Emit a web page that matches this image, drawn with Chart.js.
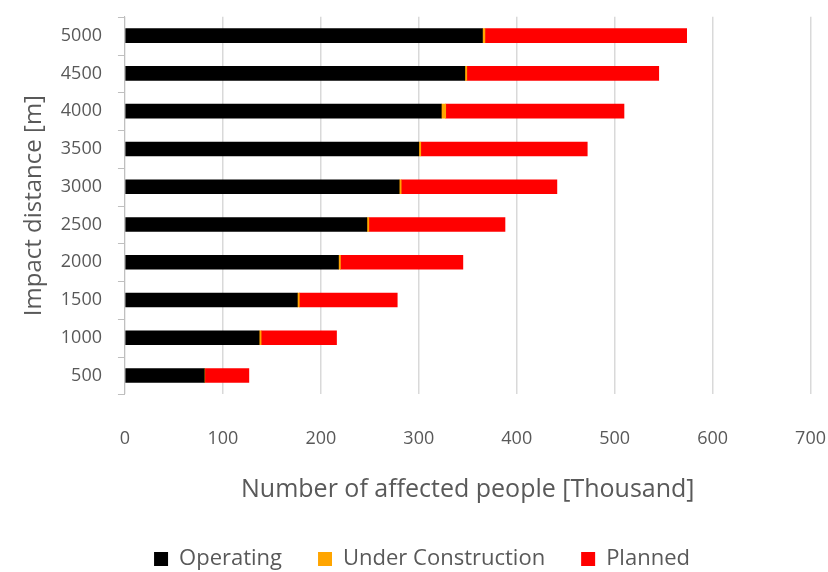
<!DOCTYPE html>
<html>
<head>
<meta charset="utf-8">
<script src="https://cdn.jsdelivr.net/npm/chart.js@4"></script>
<style>
  html, body { margin: 0; padding: 0; background: #fff; }
  #wrap { width: 828px; height: 572px; }
</style>
</head>
<body>
<div id="wrap"><canvas id="chart" width="828" height="572"></canvas></div>
<script>
// Impact distance [m] vs affected people (thousand), by plant status
const distances = ['500', '1000', '1500', '2000', '2500', '3000', '3500', '4000', '4500', '5000'];
const operating = [81, 137, 176, 218, 247, 280, 300, 323, 347, 365];
const underConstruction = [0.5, 2, 2, 2, 2, 2, 2, 4.5, 2, 2.5];
const planned = [45, 77, 100, 125, 139, 159, 170, 182, 196, 206];
const xTicks = [0, 100, 200, 300, 400, 500, 600, 700];

const textColor = '#595959';
const axisColor = '#bfbfbf';
const fontFamily = '"Open Sans", "Noto Sans", sans-serif';

// short tick marks between categories on the y axis
const categoryTicks = {
  id: 'categoryTicks',
  afterDraw(chart) {
    const scale = chart.scales.y;
    const g = chart.ctx;
    const step = (scale.bottom - scale.top) / distances.length;
    g.save();
    g.strokeStyle = axisColor;
    g.lineWidth = 1;
    for (let i = 0; i <= distances.length; i++) {
      const y = Math.round(scale.top + i * step) + 0.5;
      g.beginPath();
      g.moveTo(scale.right - 7, y);
      g.lineTo(scale.right, y);
      g.stroke();
    }
    g.restore();
  }
};

const ctx = document.getElementById('chart');

new Chart(ctx, {
  type: 'bar',
  data: {
    labels: distances,
    datasets: [
      { label: 'Operating', data: operating, backgroundColor: '#000000' },
      { label: 'Under Construction', data: underConstruction, backgroundColor: '#FFA500' },
      { label: 'Planned', data: planned, backgroundColor: '#FF0000' }
    ]
  },
  plugins: [categoryTicks],
  options: {
    indexAxis: 'y',
    responsive: false,
    animation: false,
    layout: { padding: { left: 16, right: 0, top: 6, bottom: -8 } },
    datasets: { bar: { barThickness: 14 } },
    plugins: {
      legend: {
        position: 'bottom',
        labels: {
          color: textColor,
          font: { family: fontFamily, size: 22 },
          boxWidth: 14,
          boxHeight: 14,
          padding: 36
        }
      },
      tooltip: { enabled: false }
    },
    scales: {
      x: {
        stacked: true,
        min: 0,
        max: 700,
        afterBuildTicks: axis => { axis.ticks = xTicks.map(v => ({ value: v })); },
        // invisible tick marks keep the labels well below the plot
        grid: { color: '#d9d9d9', lineWidth: 1.5, tickLength: 32, tickColor: 'rgba(0,0,0,0)' },
        border: { display: false },
        ticks: { color: textColor, font: { family: fontFamily, size: 18 }, padding: 2 },
        title: {
          display: true,
          text: 'Number of affected people [Thousand]',
          color: textColor,
          font: { family: fontFamily, size: 25 },
          padding: { top: 23, bottom: 7 }
        }
      },
      y: {
        stacked: true,
        reverse: true,
        grid: { drawOnChartArea: false, offset: true, tickLength: 17, tickColor: 'rgba(0,0,0,0)' },
        border: { color: axisColor },
        ticks: { color: textColor, font: { family: fontFamily, size: 18 }, padding: 6 },
        title: {
          display: true,
          text: 'Impact distance [m]',
          color: textColor,
          font: { family: fontFamily, size: 24 },
          padding: { bottom: 6 }
        }
      }
    }
  }
});
</script>
</body>
</html>
